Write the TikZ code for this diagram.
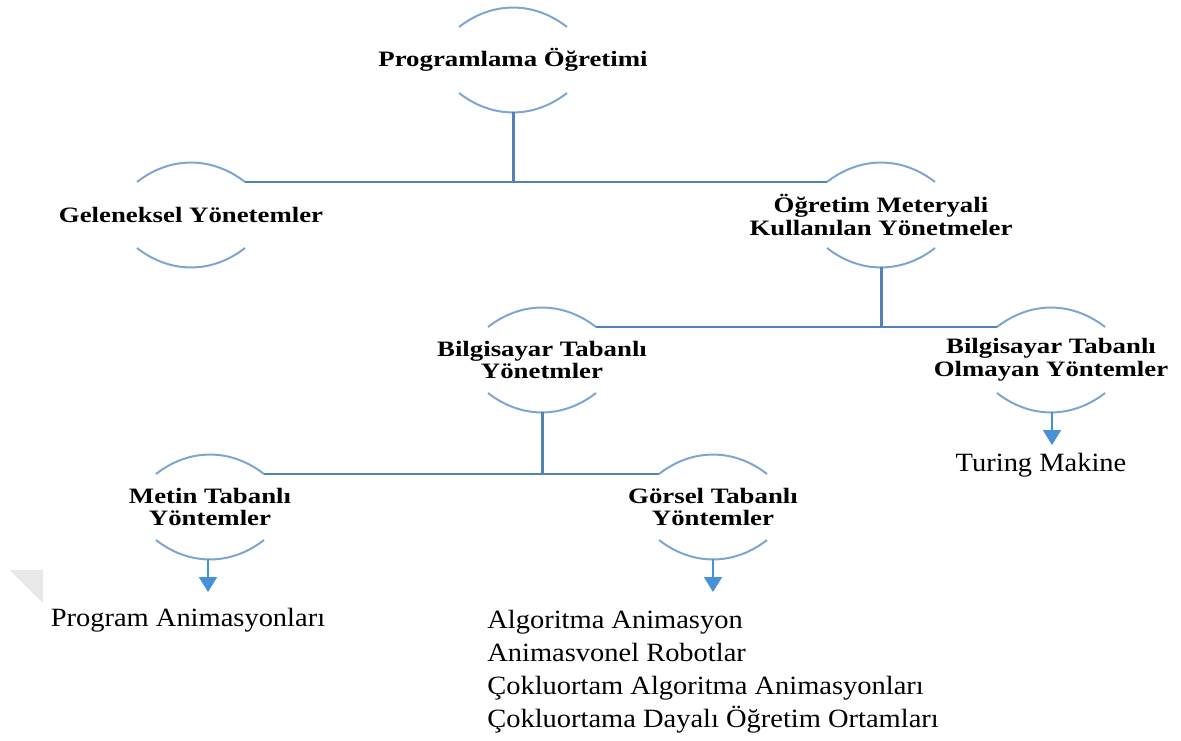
\documentclass[tikz,border=0pt]{standalone}
\usepackage{fontspec}
\setmainfont{Liberation Serif}
\newfontfamily\topicfont[FakeStretch=1.22]{Liberation Serif}
\newfontfamily\leaffont[FakeStretch=1.08]{Liberation Serif}
\usetikzlibrary{arrows.meta}

\definecolor{arcblue}{RGB}{125,165,210}
\definecolor{linkblue}{RGB}{85,130,180}
\definecolor{arrowblue}{RGB}{70,145,215}

\tikzset{
	topic/.style={align=center, inner sep=0pt, font=\topicfont\bfseries\fontsize{12.5}{13}\selectfont},
	leaf/.style={inner sep=0pt, font=\leaffont\fontsize{15}{18}\selectfont},
	arcline/.style={draw=arcblue, line width=0.4mm},
	link/.style={draw=linkblue, line width=0.4mm},
	stem/.style={draw=linkblue, line width=0.6mm},
	pointer/.style={draw=arrowblue, line width=0.4mm, ->}
}

\begin{document}
\begin{tikzpicture}[x=0.2mm, y=0.2mm, >={Triangle[length=3mm,width=3.6mm]}]
		\useasboundingbox (0,0) rectangle (1181,-740);
		
		% Nodes
		\node[topic] (prog) at (513,-60) {Programlama Öğretimi};
		\node[topic] (gel) at (191,-215) {Geleneksel Yönetemler};
		\node[topic] (ogr) at (881,-215) {Öğretim Meteryali\\Kullanılan Yönetmeler};
		\node[topic] (bt) at (542,-360) {Bilgisayar Tabanlı\\Yönetmler};
		\node[topic] (bto) at (1051,-360) {Bilgisayar Tabanlı\\Olmayan Yöntemler};
		\node[topic] (metin) at (210,-507) {Metin Tabanlı\\Yöntemler};
		\node[topic] (gorsel) at (713,-507) {Görsel Tabanlı\\Yöntemler};
		
		% Leaves
		\node[leaf] (turing) at (1041,-465) {Turing Makine};
		\node[leaf] (proganim) at (188,-620) {Program Animasyonları};
		\node[leaf, anchor=base west] (alg1) at (487,-628) {Algoritma Animasyon};
		\node[leaf, anchor=base west] (alg2) at (487,-661) {Animasvonel Robotlar};
		\node[leaf, anchor=base west] (alg3) at (487,-694) {Çokluortam Algoritma Animasyonları};
		\node[leaf, anchor=base west] (alg4) at (487,-727) {Çokluortama Dayalı Öğretim Ortamları};
		
		% Arcs above and below each topic
		\foreach \n in {prog,gel,ogr,bt,bto,metin,gorsel} {
			\coordinate (\n-tl) at ([shift={(-54,33)}]\n.center);
			\coordinate (\n-tr) at ([shift={(54,33)}]\n.center);
			\coordinate (\n-bl) at ([shift={(-54,-33)}]\n.center);
			\coordinate (\n-br) at ([shift={(54,-33)}]\n.center);
			\coordinate (\n-b) at ([shift={(0,-52)}]\n.center);
			\draw[arcline] (\n-tl) to[bend left=38] (\n-tr);
			\draw[arcline] (\n-bl) to[bend right=38] (\n-br);
		}
		
		% Lines
		\draw[link] (gel-tr) -- (ogr-tl);
		\draw[stem] (prog-b) -- (prog-b |- gel-tr);
		
		\draw[link] (bt-tr) -- (bto-tl);
		\draw[stem] (ogr-b) -- (ogr-b |- bt-tr);
		
		\draw[link] (metin-tr) -- (gorsel-tl);
		\draw[stem] (bt-b) -- (bt-b |- metin-tr);
		
		% Arrows to the leaves
		\coordinate (bto-end) at (1052,-445);
		\coordinate (metin-end) at (208,-592);
		\coordinate (gorsel-end) at (713,-592);
		\draw[pointer] ([xshift=0.2mm]bto-b) -- (bto-end);
		\draw[pointer] ([xshift=-0.4mm]metin-b) -- (metin-end);
		\draw[pointer] (gorsel-b) -- (gorsel-end);
		
		% Page corner shade
		\fill[black!9] (10,-570) -- (43,-570) -- (43,-603) -- cycle;
		
	\end{tikzpicture}
\end{document}
